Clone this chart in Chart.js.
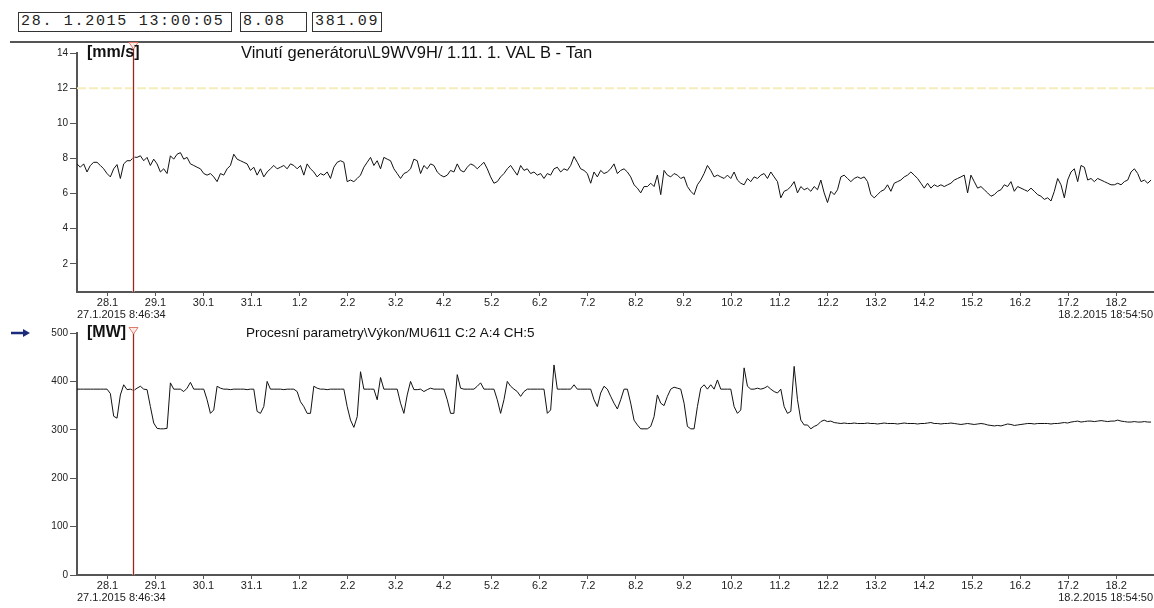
<!DOCTYPE html>
<html>
<head>
<meta charset="utf-8">
<title>Vinutí generátoru / Výkon</title>
<script src="https://cdn.jsdelivr.net/npm/chart.js@4/dist/chart.umd.min.js"></script>
<style>
  html, body { margin: 0; padding: 0; background: #fff; width: 1154px; height: 608px; overflow: hidden; }
  .box { position: absolute; top: 12px; height: 20px; box-sizing: border-box; border: 1px solid #333;
         font: 15px "Liberation Mono", "DejaVu Sans Mono", monospace; letter-spacing: 1.7px;
         line-height: 18px; padding-left: 2px; color: #222; white-space: pre; }
  #sep { position: absolute; left: 10px; right: 0; top: 41px; height: 2px; background: #555; }
  canvas { position: absolute; left: 0; }
</style>
</head>
<body>
<div class="box" id="hTime" style="left:18px;width:214px"></div>
<div class="box" id="hVib" style="left:240px;width:67px"></div>
<div class="box" id="hPow" style="left:312px;width:70px"></div>
<div id="sep"></div>
<canvas id="vib" width="1154" height="280" style="top:42px"></canvas>
<canvas id="pow" width="1154" height="286" style="top:322px"></canvas>
<script>
// Time axis in days counted from 27.1.2015 00:00
const rangeStartLabel = '27.1.2015 8:46:34';
const rangeEndLabel = '18.2.2015 18:54:50';
const startDay = (8 * 3600 + 46 * 60 + 34) / 86400;
const endDay = 22 + (18 * 3600 + 54 * 60 + 50) / 86400;
const cursorLabel = '28. 1.2015 13:00:05';
const cursorDay = 1 + (13 * 3600 + 0 * 60 + 5) / 86400;
const sampleStepDays = 100 / 1440;   // one sample every 100 minutes

const dayTicks = [1, 2, 3, 4, 5, 6, 7, 8, 9, 10, 11, 12, 13, 14, 15, 16, 17, 18, 19, 20, 21, 22];
const dayTickLabels = ['28.1', '29.1', '30.1', '31.1', '1.2', '2.2', '3.2', '4.2', '5.2', '6.2', '7.2',
  '8.2', '9.2', '10.2', '11.2', '12.2', '13.2', '14.2', '15.2', '16.2', '17.2', '18.2'];

const vibTicks = [2, 4, 6, 8, 10, 12, 14];
const powTicks = [0, 100, 200, 300, 400, 500];
const vibAlarm = 12;

// Vinutí generátoru – vibrace [mm/s]
const vibValues = [
  7.69, 7.50, 7.69, 7.23, 7.60, 7.78, 7.78, 7.60, 7.41, 7.14,
  6.95, 7.41, 7.65, 6.86, 7.69, 7.87, 7.87, 8.08, 8.06, 8.15,
  7.87, 8.06, 7.60, 7.96, 7.69, 7.23, 7.41, 7.14, 8.15, 7.96,
  8.24, 8.33, 7.96, 8.06, 7.69, 7.60, 7.50, 7.41, 7.14, 7.05,
  7.14, 6.95, 6.68, 7.14, 7.05, 7.41, 7.60, 8.24, 7.96, 7.87,
  7.78, 7.69, 7.32, 7.50, 7.05, 7.41, 6.95, 7.23, 7.41, 7.60,
  7.41, 7.50, 7.60, 7.41, 7.69, 7.60, 7.41, 7.60, 7.05, 7.69,
  7.41, 7.23, 6.95, 7.14, 7.05, 7.23, 6.86, 7.50, 7.78, 7.87,
  7.78, 6.68, 6.77, 6.68, 6.86, 7.05, 7.50, 7.78, 8.06, 7.60,
  7.87, 7.41, 8.06, 7.96, 7.87, 7.41, 7.14, 6.86, 7.14, 7.23,
  7.41, 7.96, 7.87, 7.14, 7.60, 7.41, 7.69, 7.60, 7.23, 7.05,
  6.95, 7.05, 7.32, 7.23, 7.69, 7.32, 7.23, 7.50, 7.69, 7.60,
  7.41, 7.60, 7.78, 7.41, 6.95, 6.59, 6.68, 6.95, 7.14, 7.41,
  7.60, 7.32, 7.05, 7.60, 7.32, 7.41, 7.14, 7.23, 7.05, 7.14,
  6.86, 7.14, 7.05, 7.41, 7.50, 7.23, 7.41, 7.32, 7.60, 8.11,
  7.78, 7.41, 7.32, 7.14, 6.59, 7.23, 6.95, 7.32, 7.14, 7.23,
  7.41, 7.69, 7.14, 7.32, 7.41, 7.23, 6.95, 6.50, 6.31, 6.04,
  6.40, 6.40, 6.59, 6.40, 7.05, 5.94, 7.32, 7.05, 6.95, 7.14,
  7.05, 6.86, 6.95, 6.40, 6.13, 5.94, 6.50, 6.77, 7.14, 7.60,
  7.32, 6.95, 7.05, 6.95, 6.86, 7.05, 6.86, 7.23, 6.77, 6.59,
  6.50, 6.86, 6.68, 6.95, 6.86, 7.05, 7.14, 6.86, 7.23, 6.95,
  6.68, 5.76, 6.13, 6.22, 6.40, 6.68, 6.04, 6.40, 6.22, 6.31,
  6.13, 6.40, 6.22, 6.77, 6.04, 5.49, 6.13, 5.94, 6.22, 6.95,
  7.05, 6.86, 6.68, 6.86, 6.95, 6.86, 6.95, 6.68, 5.94, 5.76,
  5.94, 6.13, 6.22, 6.50, 6.13, 6.59, 6.68, 6.77, 6.95, 7.05,
  7.23, 7.05, 6.86, 6.59, 6.31, 6.59, 6.31, 6.50, 6.40, 6.50,
  6.40, 6.50, 6.59, 6.77, 6.86, 6.95, 7.05, 6.04, 7.05, 6.68,
  6.31, 6.40, 6.22, 6.04, 5.85, 5.94, 6.13, 6.22, 6.50, 6.40,
  6.68, 6.13, 6.40, 6.31, 6.22, 6.13, 6.31, 6.13, 5.94, 5.85,
  5.67, 5.76, 5.58, 6.13, 6.86, 6.50, 5.76, 6.77, 7.23, 7.41,
  6.68, 7.60, 7.50, 6.77, 6.86, 6.68, 6.86, 6.77, 6.68, 6.59,
  6.50, 6.50, 6.59, 6.50, 6.68, 6.77, 7.23, 7.41, 7.14, 6.68,
  6.77, 6.59, 6.77
];

// Procesní parametry – výkon [MW]
const powValues = [
  384, 384, 384, 384, 384, 384, 384, 384, 384, 384,
  375, 328, 324, 372, 393, 383, 384, 381.09, 386, 390,
  384, 383, 348, 314, 303, 302, 302, 303, 397, 384,
  384, 384, 379, 386, 398, 384, 384, 384, 384, 362,
  334, 341, 390, 386, 384, 384, 383, 384, 384, 384,
  384, 383, 384, 384, 338, 334, 348, 400, 384, 384,
  384, 384, 383, 384, 384, 384, 379, 358, 348, 334,
  334, 390, 386, 384, 384, 383, 384, 384, 384, 384,
  384, 348, 320, 305, 327, 420, 384, 384, 384, 384,
  362, 408, 384, 384, 384, 384, 384, 355, 334, 372,
  400, 383, 383, 384, 379, 383, 386, 384, 384, 384,
  384, 362, 334, 334, 414, 386, 384, 384, 384, 384,
  390, 397, 384, 384, 384, 384, 362, 334, 362, 400,
  390, 384, 379, 369, 379, 384, 384, 384, 384, 384,
  384, 334, 341, 434, 384, 384, 384, 384, 384, 393,
  384, 384, 384, 384, 384, 362, 348, 376, 390, 384,
  369, 355, 343, 362, 384, 384, 355, 320, 310, 302,
  302, 302, 307, 327, 372, 355, 350, 369, 384, 388,
  386, 384, 355, 307, 302, 302, 348, 386, 393, 384,
  393, 384, 403, 384, 384, 384, 384, 348, 334, 341,
  428, 390, 384, 384, 386, 384, 386, 390, 384, 379,
  376, 384, 348, 334, 338, 431, 362, 320, 310, 310,
  302, 307, 310, 317, 320, 317, 318, 315, 314, 313,
  314, 313, 313, 314, 313, 313, 313, 314, 313, 313,
  312, 313, 314, 313, 313, 313, 312, 313, 314, 313,
  313, 313, 312, 313, 313, 314, 315, 313, 313, 312,
  313, 313, 314, 313, 312, 311, 312, 313, 312, 311,
  312, 313, 312, 310, 309, 308, 309, 308, 310, 312,
  311, 309, 310, 311, 312, 313, 313, 312, 313, 313,
  313, 313, 312, 313, 313, 314, 315, 314, 316, 317,
  318, 316, 317, 318, 318, 317, 318, 319, 318, 317,
  318, 318, 320, 318, 317, 316, 316, 317, 316, 316,
  317, 316, 316
];

const FONT = '"Liberation Sans", Arial, sans-serif';
const toPoints = vals => vals.map((v, i) => ({ x: startDay + i * sampleStepDays, y: v }));

// Header: cursor time and values of both signals at the cursor
const cursorIndex = Math.round((cursorDay - startDay) / sampleStepDays);
document.getElementById('hTime').textContent = cursorLabel;
document.getElementById('hVib').textContent = vibValues[cursorIndex].toFixed(2);
document.getElementById('hPow').textContent = powValues[cursorIndex].toFixed(2);

function panelPlugin(cfg) {
  return {
    id: 'panel',
    afterDraw(chart) {
      const { ctx, chartArea: a } = chart;
      const xs = chart.scales.x;
      ctx.save();
      // cursor line with marker
      const cx = Math.round(xs.getPixelForValue(cursorDay)) + 0.5;
      const top = a.top - cfg.cursorLead;
      ctx.strokeStyle = 'rgba(240,195,188,0.55)';
      ctx.lineWidth = 3;
      ctx.beginPath(); ctx.moveTo(cx, top); ctx.lineTo(cx, a.bottom); ctx.stroke();
      ctx.strokeStyle = '#8e2a22';
      ctx.lineWidth = 1;
      ctx.beginPath(); ctx.moveTo(cx, top); ctx.lineTo(cx, a.bottom); ctx.stroke();
      ctx.beginPath();
      ctx.moveTo(cx - 4.5, top + 0.5); ctx.lineTo(cx + 4.5, top + 0.5); ctx.lineTo(cx, top + 7);
      ctx.closePath();
      ctx.fillStyle = 'rgba(255,238,232,0.95)'; ctx.fill();
      ctx.strokeStyle = '#dd7c6e'; ctx.lineWidth = 1; ctx.stroke();

      // unit and signal name
      ctx.fillStyle = '#111';
      ctx.textBaseline = 'middle';
      ctx.textAlign = 'left';
      ctx.font = 'bold 16px ' + FONT;
      ctx.fillText(cfg.unit, 87, a.top);
      ctx.font = cfg.titleSize + 'px ' + FONT;
      ctx.fillText(cfg.title, cfg.titleX, a.top);

      // first and last timestamp of the time axis
      ctx.font = '11px ' + FONT;
      ctx.fillStyle = '#222';
      ctx.textAlign = 'left';
      ctx.fillText(rangeStartLabel, a.left, a.bottom + 23);
      ctx.textAlign = 'right';
      ctx.fillText(rangeEndLabel, a.right - 1, a.bottom + 23);

      // active-signal arrow
      if (cfg.arrow) {
        const ay = a.top;
        ctx.strokeStyle = '#1c2a7c';
        ctx.fillStyle = '#1c2a7c';
        ctx.lineWidth = 2.5;
        ctx.beginPath(); ctx.moveTo(11, ay); ctx.lineTo(24, ay); ctx.stroke();
        ctx.beginPath(); ctx.moveTo(30, ay); ctx.lineTo(23, ay - 4); ctx.lineTo(23, ay + 4); ctx.closePath(); ctx.fill();
      }
      ctx.restore();
    }
  };
}

function makeOptions(yMin, yMax, yTicks, xHeight) {
  return {
    responsive: false,
    animation: false,
    events: [],
    layout: { padding: { top: 11, left: 0, right: 0, bottom: 0 } },
    plugins: { legend: { display: false }, tooltip: { enabled: false } },
    scales: {
      x: {
        type: 'linear', min: startDay, max: endDay,
        afterBuildTicks: s => { s.ticks = dayTicks.map(v => ({ value: v })); },
        afterFit: s => { s.height = xHeight; },
        border: { display: true, color: '#555', width: 2 },
        grid: { display: true, drawOnChartArea: false, drawTicks: true, tickLength: 4, color: '#555', lineWidth: 1 },
        ticks: {
          autoSkip: false, maxRotation: 0, padding: 0, color: '#222',
          font: { family: FONT, size: 11 },
          callback: v => dayTickLabels[dayTicks.indexOf(v)]
        }
      },
      y: {
        type: 'linear', min: yMin, max: yMax,
        afterBuildTicks: s => { s.ticks = yTicks.map(v => ({ value: v })); },
        afterFit: s => { s.width = 77; },
        border: { display: true, color: '#555', width: 2 },
        grid: { display: true, drawOnChartArea: false, drawTicks: true, tickLength: 7, color: '#555', lineWidth: 1 },
        ticks: { padding: 2, color: '#222', font: { family: FONT, size: 10 } }
      }
    }
  };
}

new Chart(document.getElementById('vib'), {
  type: 'line',
  data: {
    datasets: [
      {
        data: [{ x: startDay, y: vibAlarm }, { x: endDay, y: vibAlarm }],
        borderColor: '#f5eebc', borderWidth: 2, borderDash: [9, 3],
        pointRadius: 0, order: 2
      },
      {
        data: toPoints(vibValues),
        borderColor: '#111', borderWidth: 1, pointRadius: 0, tension: 0, order: 1
      }
    ]
  },
  options: makeOptions(0.4, 14, vibTicks, 30),
  plugins: [panelPlugin({ unit: '[mm/s]', title: 'Vinutí generátoru\\L9WV9H/ 1.11. 1. VAL B - Tan',
    titleX: 241, titleSize: 16.5, cursorLead: 11, arrow: false })]
});

new Chart(document.getElementById('pow'), {
  type: 'line',
  data: {
    datasets: [
      {
        data: toPoints(powValues),
        borderColor: '#111', borderWidth: 1, pointRadius: 0, tension: 0
      }
    ]
  },
  options: makeOptions(0, 500, powTicks, 33),
  plugins: [panelPlugin({ unit: '[MW]', title: 'Procesní parametry\\Výkon/MU611 C:2 A:4 CH:5',
    titleX: 246, titleSize: 13.5, cursorLead: 6, arrow: true })]
});
</script>
</body>
</html>
